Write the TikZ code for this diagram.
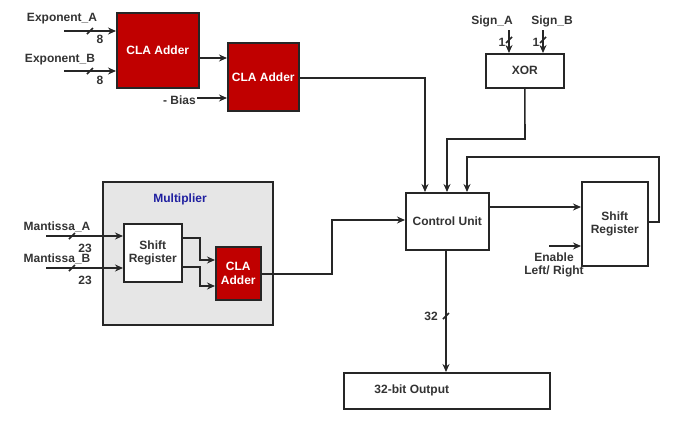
\documentclass[tikz,border=0pt]{standalone}
\usepackage{fontspec}
\setmainfont{Liberation Sans}
\usetikzlibrary{arrows.meta}
\definecolor{clared}{RGB}{192,0,0}
\definecolor{mulgray}{RGB}{230,230,230}
\definecolor{mulblue}{RGB}{32,32,160}
\begin{document}
\begin{tikzpicture}[x=1pt,y=-1pt,
  every node/.style={font=\fontsize{12}{13.5}\selectfont\bfseries, text=black!80},
  blk/.style={draw=black!85, line width=1.6pt, fill=white, inner sep=0pt},
  cla/.style={blk, fill=clared, text=white},
  ln/.style={line width=1.6pt, draw=black!85},
  ar/.style={ln, -{Stealth[length=8pt,width=7pt]}},
  lbl/.style={inner sep=0pt}]
\useasboundingbox (0,0) rectangle (687,421);
% gray multiplier
\node[blk, fill=mulgray, minimum width=170, minimum height=143, anchor=north west] (mul) at (102,181) {};
\node[lbl, text=mulblue] (multxt) at (180,199) {Multiplier};
% blocks
\node[cla, minimum width=82, minimum height=75, anchor=north west] (cla1) at (116,12) {CLA Adder};
\node[cla, minimum width=71, minimum height=68, anchor=north west] (cla2) at (227,42) {CLA Adder};
\node[blk, minimum width=78, minimum height=34, anchor=north west] (xor) at (485,53) {XOR};
\node[blk, minimum width=83, minimum height=57, anchor=north west] (cu) at (405,192) {Control Unit};
\node[blk, minimum width=66, minimum height=84, anchor=north west, align=center] (sr) at (581,181) {Shift\\Register};
\node[blk, minimum width=206, minimum height=36, anchor=north west] (out) at (343,372) {\hspace{-70pt}32-bit Output};
\node[blk, minimum width=58, minimum height=58, anchor=north west, align=center] (msr) at (123,223) {Shift\\Register};
\node[cla, minimum width=45, minimum height=53, anchor=north west, align=center] (mcla) at (215,246) {CLA\\Adder};
% coordinates
\coordinate (ea) at (64,31); \coordinate (eb) at (64,71);
\coordinate (bias) at (197,98);
\coordinate (sa) at (509,30); \coordinate (sb) at (543,30);
\coordinate (ma) at (46,236); \coordinate (mb) at (46,268);
\coordinate (en) at (549,246);
% labels
\node[lbl] (eal) at (62,19) {Exponent\_A};
\node[lbl] (ebl) at (60,60) {Exponent\_B};
\node[lbl] (e8a) at (100,39) {8};
\node[lbl] (e8b) at (100,80) {8};
\node[lbl, anchor=east] (biasl) at (196,100) {- Bias};
\node[lbl] (sal) at (492,21) {Sign\_A};
\node[lbl] (sbl) at (552,21) {Sign\_B};
\node[lbl] (s1a) at (502,42) {1};
\node[lbl] (s1b) at (536,42) {1};
\node[lbl] (mal) at (57,227) {Mantissa\_A};
\node[lbl] (mbl) at (57,259) {Mantissa\_B};
\node[lbl] (m23a) at (85,248) {23};
\node[lbl] (m23b) at (85,280) {23};
\node[lbl, align=center] (enl) at (554,265) {Enable\\Left/ Right};
\node[lbl] (l32) at (431,316) {32};
% connectors
\draw[ar] (ea) -- (ea -| cla1.west);
\draw[ar] (eb) -- (eb -| cla1.west);
\draw[ln] (87,34) -- (93,28); \draw[ln] (87,74) -- (93,68);
\draw[ar] (cla1.east |- 0,58) -- (cla2.west |- 0,58);
\draw[ar] (bias) -- (bias -| cla2.west);
\draw[ar] (cla2.east |- 0,78) -- (425,78) -- (cu.north -| 425,0);
\draw[ar] (sa) -- (sa |- xor.north);
\draw[ar] (sb) -- (sb |- xor.north);
\draw[ln] (506,43) -- (512,37); \draw[ln] (540,43) -- (546,37);
\draw[ar] (xor.south) -- (525,139) -- (447,139) -- (447,192);
\draw[ar] (sr.east |- 0,222) -- (659,222) -- (659,157) -- (467,157) -- (467,192);
\draw[ar] (cu.east |- 0,207) -- (sr.west |- 0,207);
\draw[ar] (en) -- (en -| sr.west);
\draw[ar] (cu.south -| 446,0) -- (446,372);
\draw[ln] (443,319) -- (449,313);
\draw[ar] (ma) -- (ma -| msr.west);
\draw[ar] (mb) -- (mb -| msr.west);
\draw[ln] (69,239) -- (75,233); \draw[ln] (69,271) -- (75,265);
\draw[ar] (msr.east |- 0,238) -- (200,238) -- (200,260) -- (215,260);
\draw[ar] (msr.east |- 0,267) -- (200,267) -- (200,286) -- (215,286);
\draw[ar] (mcla.east |- 0,274) -- (332,274) -- (332,220) -- (cu.west |- 0,220);
\end{tikzpicture}
\end{document}
